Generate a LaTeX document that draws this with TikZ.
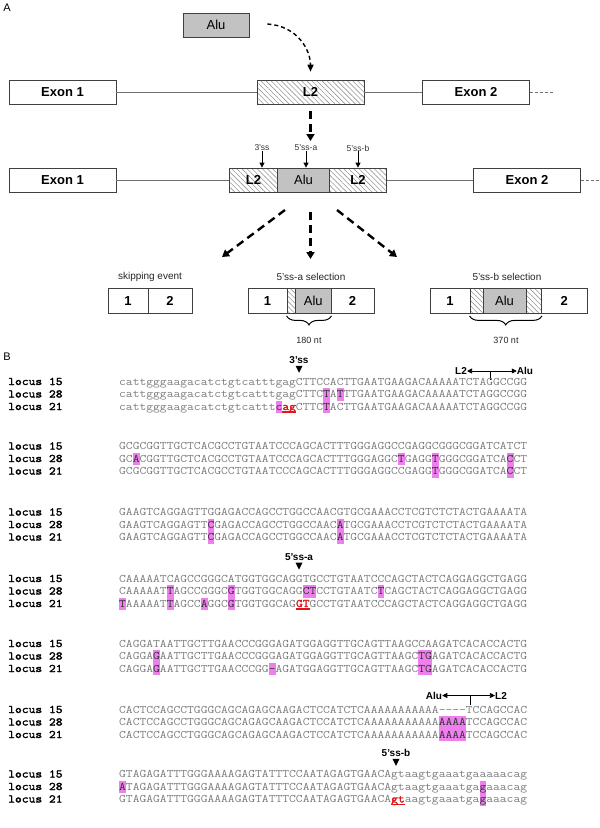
\documentclass[tikz,border=0pt]{standalone}
\usepackage{fontspec}
\setmainfont{Liberation Sans}
\newfontfamily\seqfont[FakeStretch=1.148]{Latin Modern Mono}
\newfontfamily\seqboldfont[FakeStretch=1.148,FakeBold=2]{Latin Modern Mono}
\usetikzlibrary{patterns.meta,arrows.meta,decorations.pathreplacing,calc}
\definecolor{seqgray}{HTML}{7C7C7C}
\definecolor{hlmag}{HTML}{EE80EE}
\definecolor{hltext}{HTML}{303030}
\definecolor{redss}{HTML}{E0161B}
\definecolor{alugray}{HTML}{C2C2C2}
\definecolor{boxline}{HTML}{404040}
\definecolor{introngray}{HTML}{707070}
\definecolor{hatchgray}{HTML}{9A9A9A}
\newcommand\hlt[1]{{\setlength{\fboxsep}{0pt}\colorbox{hlmag}{\rule[-3pt]{0pt}{12.5pt}\textcolor{hltext}{#1}}}}
\newcommand\rss[1]{\sbox0{#1}\rlap{\textcolor{redss}{\seqboldfont #1}}\rlap{\textcolor{redss}{\rule[-2.6pt]{\wd0}{1.2pt}}}\hbox to \wd0{\hfil}}
\tikzset{
  panellab/.style={inner sep=0pt, font=\fontsize{11}{13}\selectfont},
  box/.style={draw=boxline, line width=0.8pt, minimum height=24pt, inner sep=0pt, font=\fontsize{13}{15}\selectfont\bfseries},
  exon/.style={box, fill=white, minimum width=107pt},
  hatchbox/.style={box, pattern={Lines[angle=-45,distance=3.6pt,line width=0.6pt]}, pattern color=hatchgray},
  alubox/.style={box, fill=alugray, font=\fontsize{13}{15}\selectfont},
  numbox/.style={box, fill=white, minimum height=25pt},
  hatchsmall/.style={hatchbox, minimum height=25pt},
  alusmall/.style={alubox, minimum height=25pt},
  intron/.style={draw=introngray, line width=0.8pt},
  curvedash/.style={draw=black, line width=1.4pt, dash pattern=on 4pt off 3pt, -{Triangle[width=6pt,length=7pt]}},
  bigdash/.style={draw=black, line width=2.4pt, dash pattern=on 8pt off 5pt, -{Triangle[width=8pt,length=7pt]}},
  sslab/.style={inner sep=0pt, font=\fontsize{8.5}{10}\selectfont, text=black!80},
  smallarr/.style={draw=black, line width=1pt, -{Triangle[width=5pt,length=5pt]}},
  sellab/.style={inner sep=0pt, font=\fontsize{10}{12}\selectfont, text=black!85},
  ntlab/.style={inner sep=0pt, font=\fontsize{9}{11}\selectfont, text=black!85},
  bracestyle/.style={draw=black, line width=1pt, decorate, decoration={brace, mirror, amplitude=9pt}},
  seq/.style={anchor=base west, inner sep=0pt, font=\fontsize{11.5}{12}\selectfont\seqfont, text=seqgray},
  locus/.style={anchor=base west, inner sep=0pt, font=\fontsize{11.5}{12}\selectfont\seqboldfont, text=black},
  blab/.style={inner sep=0pt, font=\fontsize{10}{12}\selectfont\bfseries},
  marktri/.style={fill=black},
  dblarr/.style={draw=black, line width=0.7pt, {Triangle[width=5pt,length=5pt]}-{Triangle[width=5pt,length=5pt]}},
  tick/.style={draw=black, line width=0.7pt}
}
\begin{document}
\begin{tikzpicture}[x=1pt,y=-1pt]
\useasboundingbox (0,0) rectangle (600,828);
\fill[white] (0,0) rectangle (600,828);

% ---------------- Panel A ----------------
\node[panellab] (labA) at (7,8) {A};
\node[alubox, minimum width=66pt] (alutop) at (216,25) {Alu};

\node[exon] (e1a) at (62.5,92) {Exon 1};
\node[hatchbox, minimum width=107pt] (l2a) at (310.5,92) {L2};
\node[exon] (e2a) at (476,92) {Exon 2};
\coordinate (endA) at (554,92);
\draw[intron] (e1a) -- (l2a);
\draw[intron] (l2a) -- (e2a);
\draw[intron, dash pattern=on 3pt off 2pt] (e2a) -- (endA);
\draw[curvedash] ([xshift=18pt,yshift=1pt]alutop.east) .. controls +(30,2) and +(0,-22) .. ([yshift=8pt]l2a.north);

\coordinate (tdend) at (310.5,141);
\draw[bigdash] ([yshift=-7pt]l2a.south) -- (tdend);

\node[exon] (e1b) at (62.5,180) {Exon 1};
\node[hatchbox, minimum width=48pt] (l2b1) at (253.5,180) {L2};
\node[alubox, minimum width=52pt] (alub) at (303.5,180) {Alu};
\node[hatchbox, minimum width=57pt] (l2b2) at (358,180) {L2};
\node[exon] (e2b) at (527,180) {Exon 2};
\coordinate (endB) at (600,180);
\draw[intron] (e1b) -- (l2b1);
\draw[intron] (l2b2) -- (e2b);
\draw[intron, dash pattern=on 3pt off 2pt] (e2b) -- (endB);

\node[sslab] (ss3) at (262,148) {3'ss};
\node[sslab] (ss5a) at (306,148) {5'ss-a};
\node[sslab] (ss5b) at (358,148) {5'ss-b};
\draw[smallarr] (ss3.south) -- (ss3.south |- l2b1.north);
\draw[smallarr] (ss5a.south) -- (ss5a.south |- alub.north);
\draw[smallarr] (ss5b.south) -- (ss5b.south |- l2b2.north);

\coordinate (dl0) at (285,210);
\coordinate (dl1) at (222,257);
\coordinate (dm0) at (310.5,212);
\coordinate (dm1) at (310.5,259);
\coordinate (dr0) at (337,210);
\coordinate (dr1) at (397,257);
\draw[bigdash] (dl0) -- (dl1);
\draw[bigdash] (dm0) -- (dm1);
\draw[bigdash] (dr0) -- (dr1);

\node[sellab] (lskip) at (150,277) {skipping event};
\node[sellab] (lsa) at (311,277) {5'ss-a selection};
\node[sellab] (lsb) at (507,277) {5'ss-b selection};

\node[numbox, minimum width=40pt] (s1) at (128,301) {1};
\node[numbox, minimum width=44pt] (s2) at (170,301) {2};

\node[numbox, minimum width=39pt] (a1) at (267.5,301) {1};
\node[hatchsmall, minimum width=8.5pt] (ah) at (291.25,301) {};
\node[alusmall, minimum width=35.5pt] (aalu) at (313.25,301) {Alu};
\node[numbox, minimum width=43pt] (a2) at (352.5,301) {2};

\node[numbox, minimum width=40pt] (b1) at (450,301) {1};
\node[hatchsmall, minimum width=13pt] (bh1) at (476.5,301) {};
\node[alusmall, minimum width=43pt] (balu) at (504.5,301) {Alu};
\node[hatchsmall, minimum width=15.5pt] (bh2) at (533.75,301) {};
\node[numbox, minimum width=45.5pt] (b2) at (564.25,301) {2};

\draw[bracestyle] ([yshift=-2pt]ah.south west) -- ([yshift=-2pt]aalu.south east);
\draw[bracestyle] ([yshift=-2pt]bh1.south west) -- ([yshift=-2pt]bh2.south east);
\node[ntlab] (n180) at (309,340) {180 nt};
\node[ntlab] (n370) at (506,340) {370 nt};

% ---------------- Panel B ----------------
\node[panellab] (labB) at (7,357) {B};

% block 1
\node[blab] (l3ss) at (299,360) {3'ss};
\fill[marktri] ($(l3ss.south)+(-3.5,2)$) -- ++(7,0) -- ++(-3.5,7) -- cycle;
\node[blab] (bl2a) at (461,371) {L2};
\node[blab] (balua) at (525,371) {Alu};
\draw[dblarr] (bl2a.east) -- (balua.west);
\coordinate (tk1a) at (490,371.5);
\coordinate (tk1b) at (490,380);
\draw[tick] (tk1a) -- (tk1b);

\node[locus] (n1a) at (8,385) {locus 15};
\node[locus] (n1b) at (8,397.5) {locus 28};
\node[locus] (n1c) at (8,410) {locus 21};
\node[seq] (q1a) at (119,385) {cattgggaagacatctgtcatttgagCTTCCACTTGAATGAAGACAAAAATCTAGGCCGG};
\node[seq] (q1b) at (119,397.5) {cattgggaagacatctgtcatttgagCTTC\hlt{T}A\hlt{T}TTGAATGAAGACAAAAATCTAGGCCGG};
\node[seq] (q1c) at (119,410) {cattgggaagacatctgtcattt\hlt{c}\rss{ag}CTTC\hlt{T}ACTTGAATGAAGACAAAAATCTAGGCCGG};

% block 2
\node[locus] (n2a) at (8,449.5) {locus 15};
\node[locus] (n2b) at (8,462) {locus 28};
\node[locus] (n2c) at (8,474.5) {locus 21};
\node[seq] (q2a) at (119,449.5) {GCGCGGTTGCTCACGCCTGTAATCCCAGCACTTTGGGAGGCCGAGGCGGGCGGATCATCT};
\node[seq] (q2b) at (119,462) {GC\hlt{A}CGGTTGCTCACGCCTGTAATCCCAGCACTTTGGGAGGC\hlt{T}GAGG\hlt{T}GGGCGGATCA\hlt{C}CT};
\node[seq] (q2c) at (119,474.5) {GCGCGGTTGCTCACGCCTGTAATCCCAGCACTTTGGGAGGCCGAGG\hlt{T}GGGCGGATCA\hlt{C}CT};

% block 3
\node[locus] (n3a) at (8,515.5) {locus 15};
\node[locus] (n3b) at (8,528) {locus 28};
\node[locus] (n3c) at (8,540.5) {locus 21};
\node[seq] (q3a) at (119,515.5) {GAAGTCAGGAGTTGGAGACCAGCCTGGCCAACGTGCGAAACCTCGTCTCTACTGAAAATA};
\node[seq] (q3b) at (119,528) {GAAGTCAGGAGTT\hlt{C}GAGACCAGCCTGGCCAAC\hlt{A}TGCGAAACCTCGTCTCTACTGAAAATA};
\node[seq] (q3c) at (119,540.5) {GAAGTCAGGAGTT\hlt{C}GAGACCAGCCTGGCCAAC\hlt{A}TGCGAAACCTCGTCTCTACTGAAAATA};

% block 4
\node[blab] (l5a) at (299,557) {5'ss-a};
\fill[marktri] ($(l5a.south)+(-3.5,2)$) -- ++(7,0) -- ++(-3.5,7) -- cycle;
\node[locus] (n4a) at (8,582) {locus 15};
\node[locus] (n4b) at (8,594.5) {locus 28};
\node[locus] (n4c) at (8,607) {locus 21};
\node[seq] (q4a) at (119,582) {CAAAAATCAGCCGGGCATGGTGGCAGGTGCCTGTAATCCCAGCTACTCAGGAGGCTGAGG};
\node[seq] (q4b) at (119,594.5) {CAAAAAT\hlt{T}AGCCGGGC\hlt{G}TGGTGGCAGG\hlt{CT}CCTGTAATC\hlt{T}CAGCTACTCAGGAGGCTGAGG};
\node[seq] (q4c) at (119,607) {\hlt{T}AAAAAT\hlt{T}AGCC\hlt{A}GGC\hlt{G}TGGTGGCAG\rss{GT}GCCTGTAATCCCAGCTACTCAGGAGGCTGAGG};

% block 5
\node[locus] (n5a) at (8,647) {locus 15};
\node[locus] (n5b) at (8,659.5) {locus 28};
\node[locus] (n5c) at (8,672) {locus 21};
\node[seq] (q5a) at (119,647) {CAGGATAATTGCTTGAACCCGGGAGATGGAGGTTGCAGTTAAGCCAAGATCACACCACTG};
\node[seq] (q5b) at (119,659.5) {CAGGA\hlt{G}AATTGCTTGAACCCGGGAGATGGAGGTTGCAGTTAAGC\hlt{TG}AGATCACACCACTG};
\node[seq] (q5c) at (119,672) {CAGGA\hlt{G}AATTGCTTGAACCCGG\hlt{-}AGATGGAGGTTGCAGTTAAGC\hlt{TG}AGATCACACCACTG};

% block 6
\node[blab] (balub) at (434,695.5) {Alu};
\node[blab] (bl2b) at (501,695.5) {L2};
\draw[dblarr] (balub.east) -- (bl2b.west);
\coordinate (tk6a) at (470,696);
\coordinate (tk6b) at (470,705);
\draw[tick] (tk6a) -- (tk6b);
\node[locus] (n6a) at (8,713) {locus 15};
\node[locus] (n6b) at (8,725.5) {locus 28};
\node[locus] (n6c) at (8,738) {locus 21};
\node[seq] (q6a) at (119,713) {CACTCCAGCCTGGGCAGCAGAGCAAGACTCCATCTCAAAAAAAAAAA-{}-{}-{}-TCCAGCCAC};
\node[seq] (q6b) at (119,725.5) {CACTCCAGCCTGGGCAGCAGAGCAAGACTCCATCTCAAAAAAAAAAA\hlt{AAAA}TCCAGCCAC};
\node[seq] (q6c) at (119,738) {CACTCCAGCCTGGGCAGCAGAGCAAGACTCCATCTCAAAAAAAAAAA\hlt{AAAA}TCCAGCCAC};

% block 7
\node[blab] (l5b) at (396,753) {5'ss-b};
\fill[marktri] ($(l5b.south)+(-3.5,2)$) -- ++(7,0) -- ++(-3.5,7) -- cycle;
\node[locus] (n7a) at (8,777.5) {locus 15};
\node[locus] (n7b) at (8,790) {locus 28};
\node[locus] (n7c) at (8,802.5) {locus 21};
\node[seq] (q7a) at (119,777.5) {GTAGAGATTTGGGAAAAGAGTATTTCCAATAGAGTGAACAgtaagtgaaatgaaaaacag};
\node[seq] (q7b) at (119,790) {\hlt{A}TAGAGATTTGGGAAAAGAGTATTTCCAATAGAGTGAACAgtaagtgaaatga\hlt{g}aaacag};
\node[seq] (q7c) at (119,802.5) {GTAGAGATTTGGGAAAAGAGTATTTCCAATAGAGTGAACA\rss{gt}aagtgaaatga\hlt{g}aaacag};
\end{tikzpicture}
\end{document}
